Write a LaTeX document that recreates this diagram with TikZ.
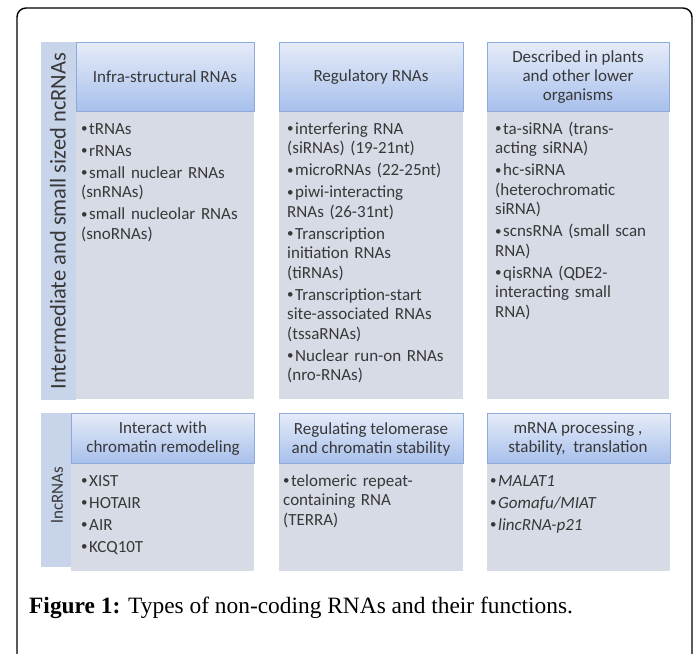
\documentclass[tikz,border=0pt]{standalone}
\usepackage{fontspec}
\setmainfont{Liberation Serif}
\newfontfamily\calfont{Carlito}
\definecolor{hdrtop}{HTML}{E6ECF8}
\definecolor{hdrbot}{HTML}{A8C0EC}
\definecolor{hdrline}{HTML}{8EAADB}
\definecolor{bodyfill}{HTML}{D6DBE6}
\definecolor{sidefill}{HTML}{C7D4E9}
\definecolor{txt}{HTML}{383838}
\newcommand\bul{{\fontsize{13}{13}\selectfont\raisebox{0.08em}{\textbullet}}}
\newcommand\fitm[1]{\hangindent=8pt\hangafter=1\noindent\hbox to 8pt{\bul\hss}#1}
\newcommand\itm[1]{\par\fitm{#1}}
\tikzset{
  hdr/.style={draw=hdrline, line width=0.8pt, top color=hdrtop, bottom color=hdrbot, inner sep=0pt},
  bodybox/.style={fill=bodyfill, draw=none, inner sep=0pt},
  sidebox/.style={fill=sidefill, draw=none, inner sep=0pt},
  hdrtext/.style={text=txt, align=center, inner sep=0pt, font=\calfont\fontsize{17}{19}\selectfont},
  bullets/.style={text=txt, align=left, inner sep=0pt, anchor=base west, text width=185pt,
     font=\calfont\fontsize{17}{19.5}\selectfont\setlength{\parskip}{2.5pt}},
  sidetext/.style={text=txt, rotate=90, inner sep=0pt, font=\calfont\fontsize{22.5}{26}\selectfont},
}
\begin{document}
\begin{tikzpicture}[x=1pt,y=-1pt]
\clip (0,0) rectangle (695,653);
\fill[white] (0,0) rectangle (695,653);
% outer frame
\draw[line width=1.4pt, rounded corners=9pt] (17,680) -- (17,8) -- (692,8) -- (692,680);

% ---------- top row ----------
\path[sidebox] (41,42) rectangle (76,400);
\node[sidetext] (sideA) at (58,221) {Intermediate and small sized ncRNAs};

\path[bodybox] (76,111) rectangle (254,399);
\path[bodybox] (279,111) rectangle (463,399);
\path[bodybox] (487,111) rectangle (669,399);

\path[hdr] (76,42) rectangle (254,111);
\path[hdr] (279,42) rectangle (463,111);
\path[hdr] (487,42) rectangle (669,111);

\node[hdrtext] (h1) at (165,77) {Infra-structural RNAs};
\node[hdrtext] (h2) at (371,77) {Regulatory RNAs};
\node[hdrtext] (h3) at (578,77) {Described in plants\\and other lower\\organisms};

\node[bullets] (b1) at (81,134) {%
\fitm{tRNAs}
\itm{rRNAs}
\itm{small nuclear RNAs\\(snRNAs)}
\itm{small nucleolar RNAs\\(snoRNAs)}};

\node[bullets] (b2) at (287,134) {%
\fitm{interfering RNA\\(siRNAs) (19-21nt)}
\itm{microRNAs (22-25nt)}
\itm{piwi-interacting\\RNAs (26-31nt)}
\itm{Transcription\\initiation RNAs\\(tiRNAs)}
\itm{Transcription-start\\site-associated RNAs\\(tssaRNAs)}
\itm{Nuclear run-on RNAs\\(nro-RNAs)}};

\node[bullets] (b3) at (495,134) {%
\fitm{ta-siRNA (trans-\\acting siRNA)}
\itm{hc-siRNA\\(heterochromatic\\siRNA)}
\itm{scnsRNA (small scan\\RNA)}
\itm{qisRNA (QDE2-\\interacting small\\RNA)}};

% ---------- bottom row ----------
\path[sidebox] (41,413) rectangle (71,567);
\node[sidetext, font=\calfont\fontsize{17}{21}\selectfont] (sideB) at (57,495) {lncRNAs};

\path[bodybox] (71,463) rectangle (254,571);
\path[bodybox] (279,463) rectangle (463,571);
\path[bodybox] (487,463) rectangle (670,571);

\path[hdr] (71,413) rectangle (254,463);
\path[hdr] (279,413) rectangle (463,463);
\path[hdr] (487,413) rectangle (670,463);

\node[hdrtext] (h4) at (163,439) {Interact with\\chromatin remodeling};
\node[hdrtext] (h5) at (371,439) {Regulating telomerase\\and chromatin stability};
\node[hdrtext] (h6) at (578,439) {mRNA processing ,\\stability, \ translation};

\node[bullets] (b4) at (81,486) {%
\fitm{XIST}
\itm{HOTAIR}
\itm{AIR}
\itm{KCQ10T}};

\node[bullets] (b5) at (283,486) {%
\fitm{telomeric repeat-\\containing RNA\\(TERRA)}};

\node[bullets] (b6) at (490,486) {%
\fitm{\textit{MALAT1}}
\itm{\textit{Gomafu/MIAT}}
\itm{\textit{lincRNA-p21}}};

% caption
\node[anchor=base west, inner sep=0pt, font=\fontsize{23.4}{27}\selectfont] (cap) at (29,613)
  {\textbf{Figure 1:} Types of non-coding RNAs and their functions.};
\end{tikzpicture}
\end{document}
